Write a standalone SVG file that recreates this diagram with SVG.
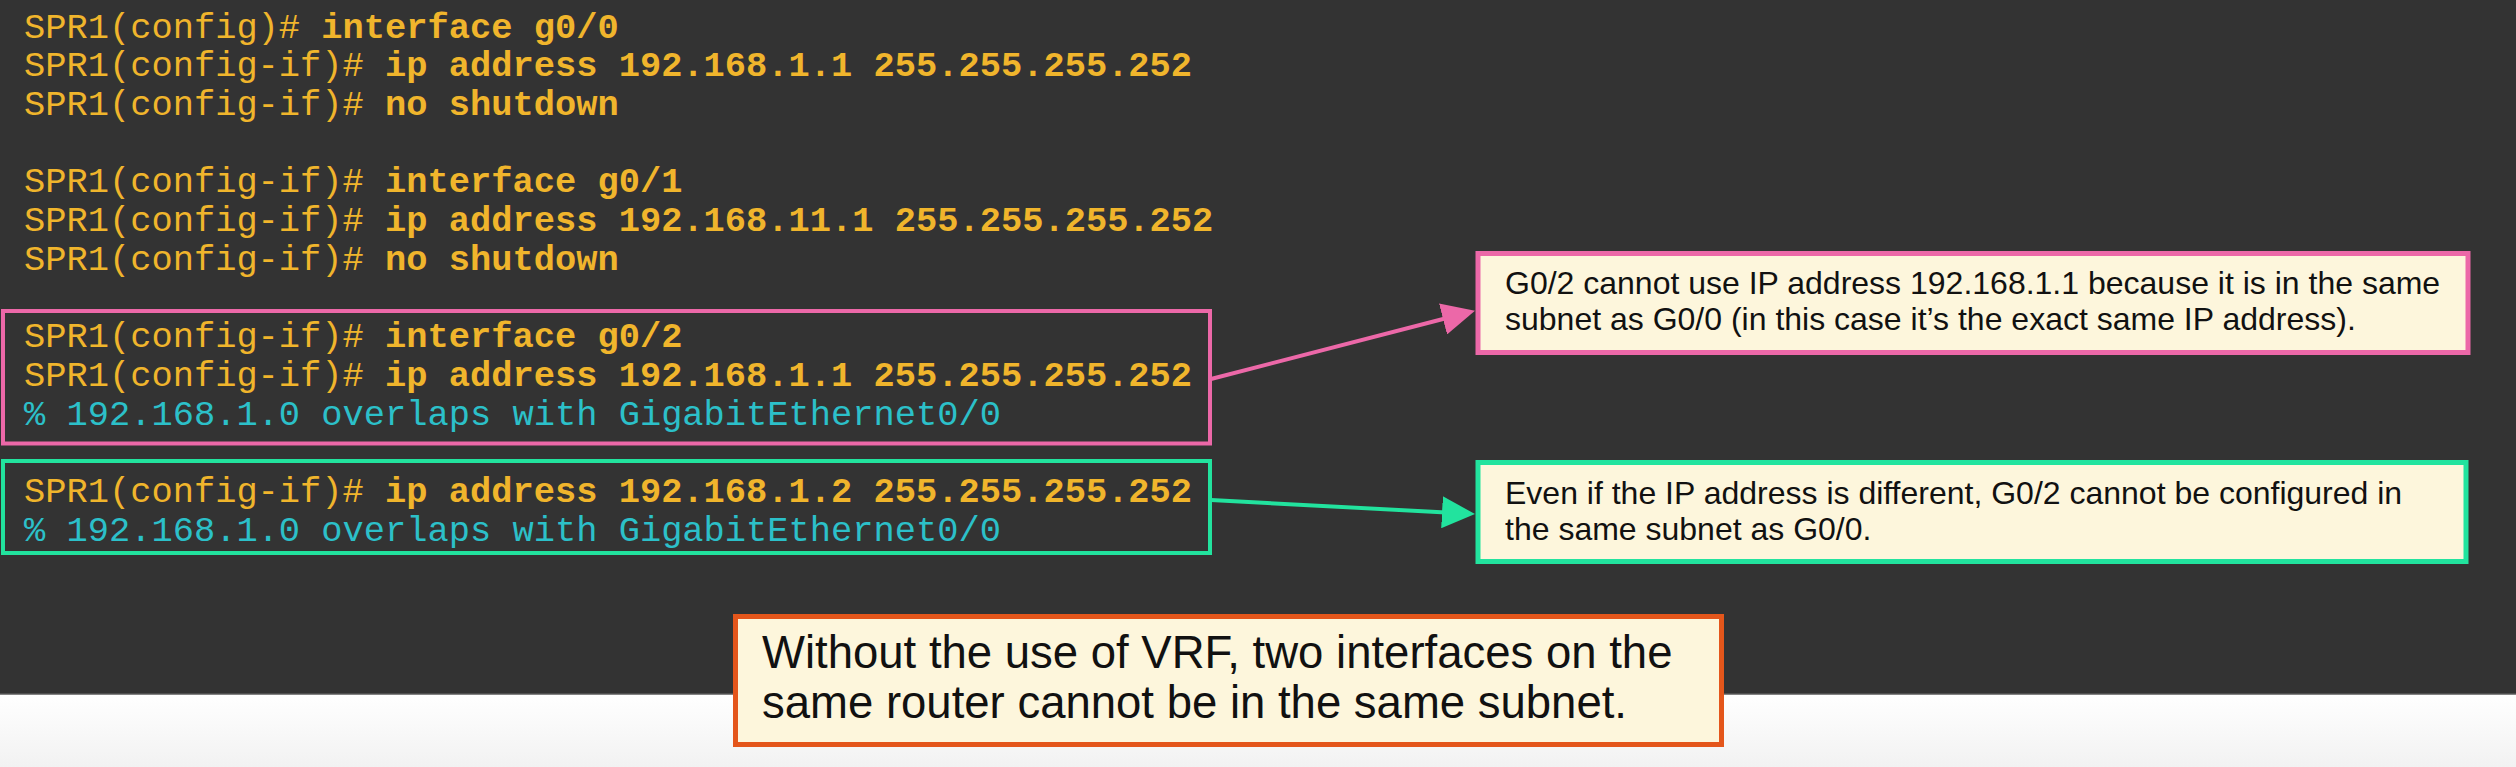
<svg xmlns="http://www.w3.org/2000/svg" width="2516" height="767" viewBox="0 0 2516 767">
<style>
.code{font-family:"Liberation Mono","DejaVu Sans Mono",monospace;font-size:35.4px;fill:#F0B52C}
.b{font-weight:bold}
.err{fill:#2CC0C9}
.note{font-family:"Liberation Sans",Arial,sans-serif;font-size:32px;fill:#111111}
.big{font-family:"Liberation Sans",Arial,sans-serif;font-size:45.5px;fill:#111111}
</style>
<defs>
<linearGradient id="lg" x1="0" y1="0" x2="0" y2="1">
<stop offset="0" stop-color="#ffffff"/>
<stop offset="1" stop-color="#f2f2f2"/>
</linearGradient>
<marker id="ahPink" markerUnits="userSpaceOnUse" markerWidth="34" markerHeight="32" refX="23" refY="16" orient="auto">
<path d="M0,0 L33,16 L0,32 Z" fill="#EC68A8"/>
</marker>
<marker id="ahGreen" markerUnits="userSpaceOnUse" markerWidth="34" markerHeight="32" refX="23" refY="16" orient="auto">
<path d="M0,0 L33,16 L0,32 Z" fill="#22E39E"/>
</marker>
</defs>
<rect x="0" y="694" width="2516" height="73" fill="url(#lg)"/>
<rect x="0" y="0" width="2516" height="694" fill="#333333"/>
<line x1="0" y1="694" x2="2516" y2="694" stroke="#5a5a5a" stroke-width="1.5"/>

<g id="code">
<text class="code" x="24" y="37.5">SPR1(config)# <tspan class="b">interface g0/0</tspan></text>
<text class="code" x="24" y="76.2">SPR1(config-if)# <tspan class="b">ip address 192.168.1.1 255.255.255.252</tspan></text>
<text class="code" x="24" y="114.9">SPR1(config-if)# <tspan class="b">no shutdown</tspan></text>
<text class="code" x="24" y="192.3">SPR1(config-if)# <tspan class="b">interface g0/1</tspan></text>
<text class="code" x="24" y="231">SPR1(config-if)# <tspan class="b">ip address 192.168.11.1 255.255.255.252</tspan></text>
<text class="code" x="24" y="269.7">SPR1(config-if)# <tspan class="b">no shutdown</tspan></text>
</g>

<g id="box-g02">
<rect x="3" y="311" width="1207" height="132.5" fill="none" stroke="#EC68A8" stroke-width="4"/>
<text class="code" x="24" y="347.1">SPR1(config-if)# <tspan class="b">interface g0/2</tspan></text>
<text class="code" x="24" y="385.8">SPR1(config-if)# <tspan class="b">ip address 192.168.1.1 255.255.255.252</tspan></text>
<text class="code err" x="24" y="424.5">% 192.168.1.0 overlaps with GigabitEthernet0/0</text>
</g>

<g id="box-ip2">
<rect x="3" y="461" width="1207" height="92" fill="none" stroke="#22E39E" stroke-width="4"/>
<text class="code" x="24" y="501.9">SPR1(config-if)# <tspan class="b">ip address 192.168.1.2 255.255.255.252</tspan></text>
<text class="code err" x="24" y="540.6">% 192.168.1.0 overlaps with GigabitEthernet0/0</text>
</g>

<g id="note-pink">
<rect x="1478" y="253.5" width="990" height="99" fill="#FDF6DC" stroke="#EC68A8" stroke-width="5"/>
<text class="note" x="1505" y="294">G0/2 cannot use IP address 192.168.1.1 because it is in the same</text>
<text class="note" x="1505" y="330">subnet as G0/0 (in this case it’s the exact same IP address).</text>
</g>

<g id="note-green">
<rect x="1478" y="462.5" width="988" height="99" fill="#FDF6DC" stroke="#22E39E" stroke-width="5"/>
<text class="note" x="1505" y="504">Even if the IP address is different, G0/2 cannot be configured in</text>
<text class="note" x="1505" y="540">the same subnet as G0/0.</text>
</g>

<g id="note-vrf">
<rect x="735.5" y="616.5" width="986" height="128" fill="#FDF6DC" stroke="#E4561B" stroke-width="5"/>
<text class="big" x="762" y="668">Without the use of VRF, two interfaces on the</text>
<text class="big" x="762" y="718">same router cannot be in the same subnet.</text>
</g>

<g id="connectors" stroke-width="4" fill="none">
<line x1="1211" y1="379" x2="1465.3" y2="313.2" stroke="#EC68A8" marker-end="url(#ahPink)"/>
<line x1="1211" y1="500" x2="1465" y2="513.5" stroke="#22E39E" marker-end="url(#ahGreen)"/>
</g>
</svg>
